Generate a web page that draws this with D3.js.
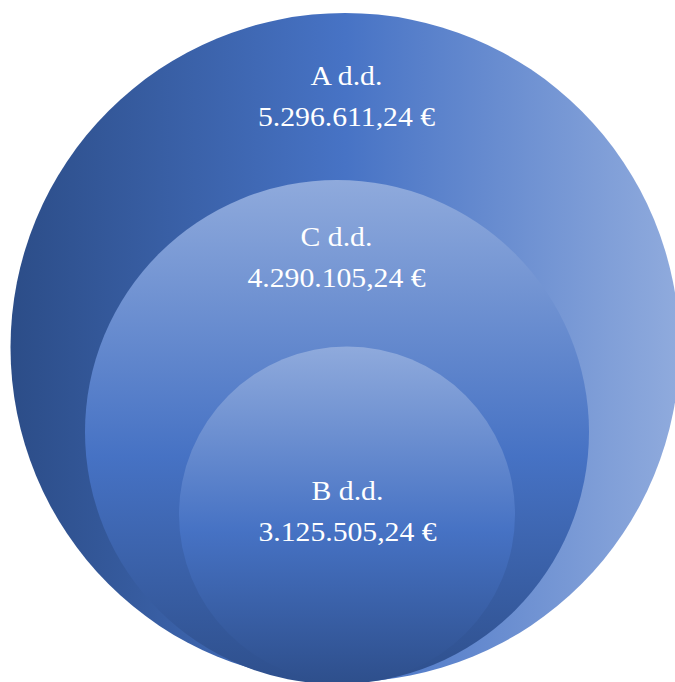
<!DOCTYPE html>
<html>
<head>
<meta charset="utf-8">
<script src="https://cdn.jsdelivr.net/npm/d3@7"></script>
<style>
html,body{margin:0;padding:0;background:#fff;overflow:hidden;}
svg{display:block;}
</style>
</head>
<body>
<svg id="chart" width="675" height="682"></svg>
<script>
// Data
const companies = ["A d.d.", "C d.d.", "B d.d."];
const amounts = [5296611.24, 4290105.24, 3125505.24];

const W = 675, H = 682;
const svg = d3.select("#chart");

// Euro formatting (de-style: "." thousands, "," decimals)
const locale = d3.formatLocale({decimal: ",", thousands: ".", grouping: [3], currency: ["", " €"]});
const fmt = locale.format(",.2f");

// Layout (SmartArt stacked Venn; sizes are layout, not data)
const layout = [
  {cx: 345, cy: 347.5, r: 334.5, tx: 346.5, ty1: 85, ty2: 126, dir: "h"},
  {cx: 337, cy: 432, r: 252, tx: 336.5, ty1: 246, ty2: 287, dir: "v"},
  {cx: 347, cy: 514.5, r: 168, tx: 347.5, ty1: 500, ty2: 541.5, dir: "v"}
];

const defs = svg.append("defs");
const gh = defs.append("linearGradient").attr("id", "gh")
  .attr("x1", "0").attr("y1", "0").attr("x2", "1").attr("y2", "0");
gh.append("stop").attr("offset", "0").attr("stop-color", "#2c4d88");
gh.append("stop").attr("offset", "0.5").attr("stop-color", "#4773c5");
gh.append("stop").attr("offset", "1").attr("stop-color", "#90abdd");
const gv = defs.append("linearGradient").attr("id", "gv")
  .attr("x1", "0").attr("y1", "0").attr("x2", "0").attr("y2", "1");
gv.append("stop").attr("offset", "0").attr("stop-color", "#8faadc");
gv.append("stop").attr("offset", "0.55").attr("stop-color", "#4672c4");
gv.append("stop").attr("offset", "1").attr("stop-color", "#2e4f8c");

const data = companies.map((c, i) => ({name: c, value: amounts[i], ...layout[i]}));

svg.selectAll("circle.venn").data(data).join("circle")
  .attr("class", "venn")
  .attr("cx", d => d.cx).attr("cy", d => d.cy).attr("r", d => d.r)
  .attr("fill", d => d.dir === "h" ? "url(#gh)" : "url(#gv)");

const sx = 1.1;
const labels = svg.selectAll("g.lbl").data(data).join("g").attr("class", "lbl")
  .attr("transform", d => `translate(${d.tx},0) scale(${sx},1)`);
labels.append("text")
  .attr("x", 0).attr("y", d => d.ty1)
  .attr("text-anchor", "middle")
  .attr("font-family", "'Liberation Serif','Times New Roman',serif")
  .attr("font-size", 27).attr("fill", "#fff")
  .text(d => d.name);
labels.append("text")
  .attr("x", 0).attr("y", d => d.ty2)
  .attr("text-anchor", "middle")
  .attr("font-family", "'Liberation Serif','Times New Roman',serif")
  .attr("font-size", 27).attr("fill", "#fff")
  .text(d => fmt(d.value) + " €");
</script>
</body>
</html>
